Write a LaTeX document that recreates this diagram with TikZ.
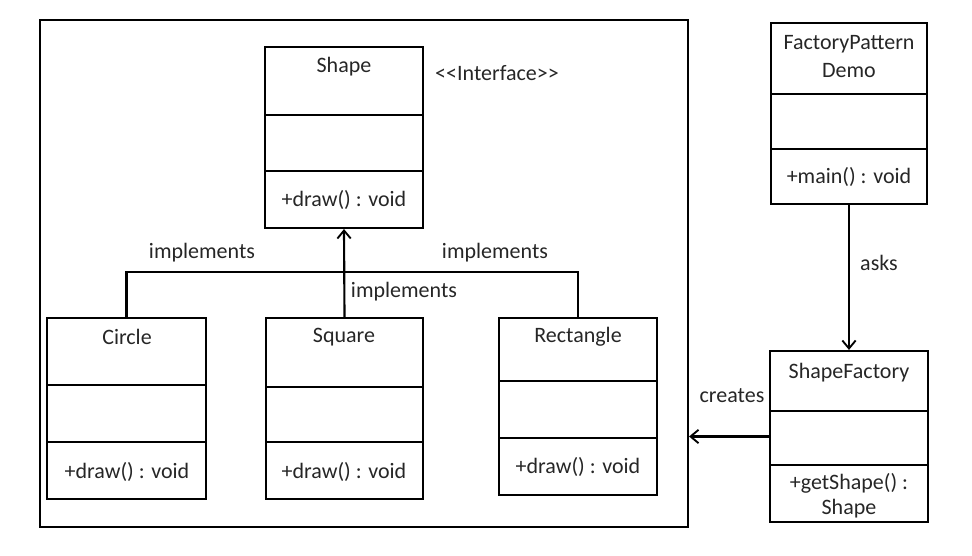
\documentclass[tikz,border=0pt]{standalone}
\usepackage{fontspec}
\setmainfont{Carlito}
\usetikzlibrary{arrows.meta}

\begin{document}
\begin{tikzpicture}[x=0.75pt, y=-0.75pt,
	C/.style={draw, line width=1.6pt, inner sep=0pt},
	T/.style={text=black!85, font=\fontsize{16.5}{20}\selectfont, inner sep=0pt, align=center},
	L/.style={line width=1.6pt},
	A/.style={L, -{Straight Barb[length=6pt, width=10pt, line width=1.4pt]}}]
		\useasboundingbox (0,0) rectangle (972,556);
		
		% class boxes
		\node[C, minimum width=486pt, minimum height=380.25pt] (frame) at (364,273.5) {};
		\node[C, minimum width=118.5pt, minimum height=135.75pt] (shape) at (344,137.5) {};
		\node[C, minimum width=119.25pt, minimum height=135.75pt] (circle) at (126.5,408.5) {};
		\node[C, minimum width=117.75pt, minimum height=135.75pt] (square) at (344.5,408.5) {};
		\node[C, minimum width=118.5pt, minimum height=132.75pt] (rectangle) at (578,406.5) {};
		\node[C, minimum width=117pt, minimum height=135.75pt] (demo) at (849,113.5) {};
		\node[C, minimum width=118.5pt, minimum height=128.25pt] (factory) at (849,436.5) {};
		
		\foreach \l/\r/\y in {265/423/115, 265/423/171, 47/206/385, 47/206/442, 266/423/387, 266/423/442,
			499/657/381, 499/657/438, 771/927/94, 771/927/149, 770/928/411, 770/928/465}
			\draw[L] (\l,\y) -- (\r,\y);
		
		% write class names and methods
		\node[T] (shapename) at (344,67) {Shape};
		\node[T] (stereo) at (497,73) {<{}<Interface>{}>};
		\node[T] (shapedraw) at (344,200) {+draw() : void};
		\node[T] (circlename) at (127,337) {Circle};
		\node[T] (circledraw) at (127,472) {+draw() : void};
		\node[T] (squarename) at (344,337) {Square};
		\node[T] (squaredraw) at (344,472) {+draw() : void};
		\node[T] (rectname) at (578,337) {Rectangle};
		\node[T] (rectdraw) at (578,467) {+draw() : void};
		\node[T, font=\fontsize{16.5}{21}\selectfont] (demoname) at (849,57) {FactoryPattern\\Demo};
		\node[T] (demomain) at (849,177) {+main() : void};
		\node[T] (factoryname) at (849,373) {ShapeFactory};
		\node[T, font=\fontsize{16.5}{19}\selectfont] (factoryget) at (849,495.5) {+getShape() :\\Shape};
		
		% connectors
		\coordinate (join) at (344,272);
		\draw[L] (circle.north) |- (join) -| (rectangle.north);
		\draw[A] (square.north) -- (shape.south);
		\draw[A] (demo.south) -- (factory.north);
		\draw[A] (factory.west) -- (factory.west -| frame.east);
		
		\node[T] (implleft) at (202,253) {implements};
		\node[T] (implright) at (495,253) {implements};
		\node[T] (implmid) at (404,292) {implements};
		\node[T] (asks) at (879,263) {asks};
		\node[T] (creates) at (732,396) {creates};
		
\end{tikzpicture}
\end{document}
